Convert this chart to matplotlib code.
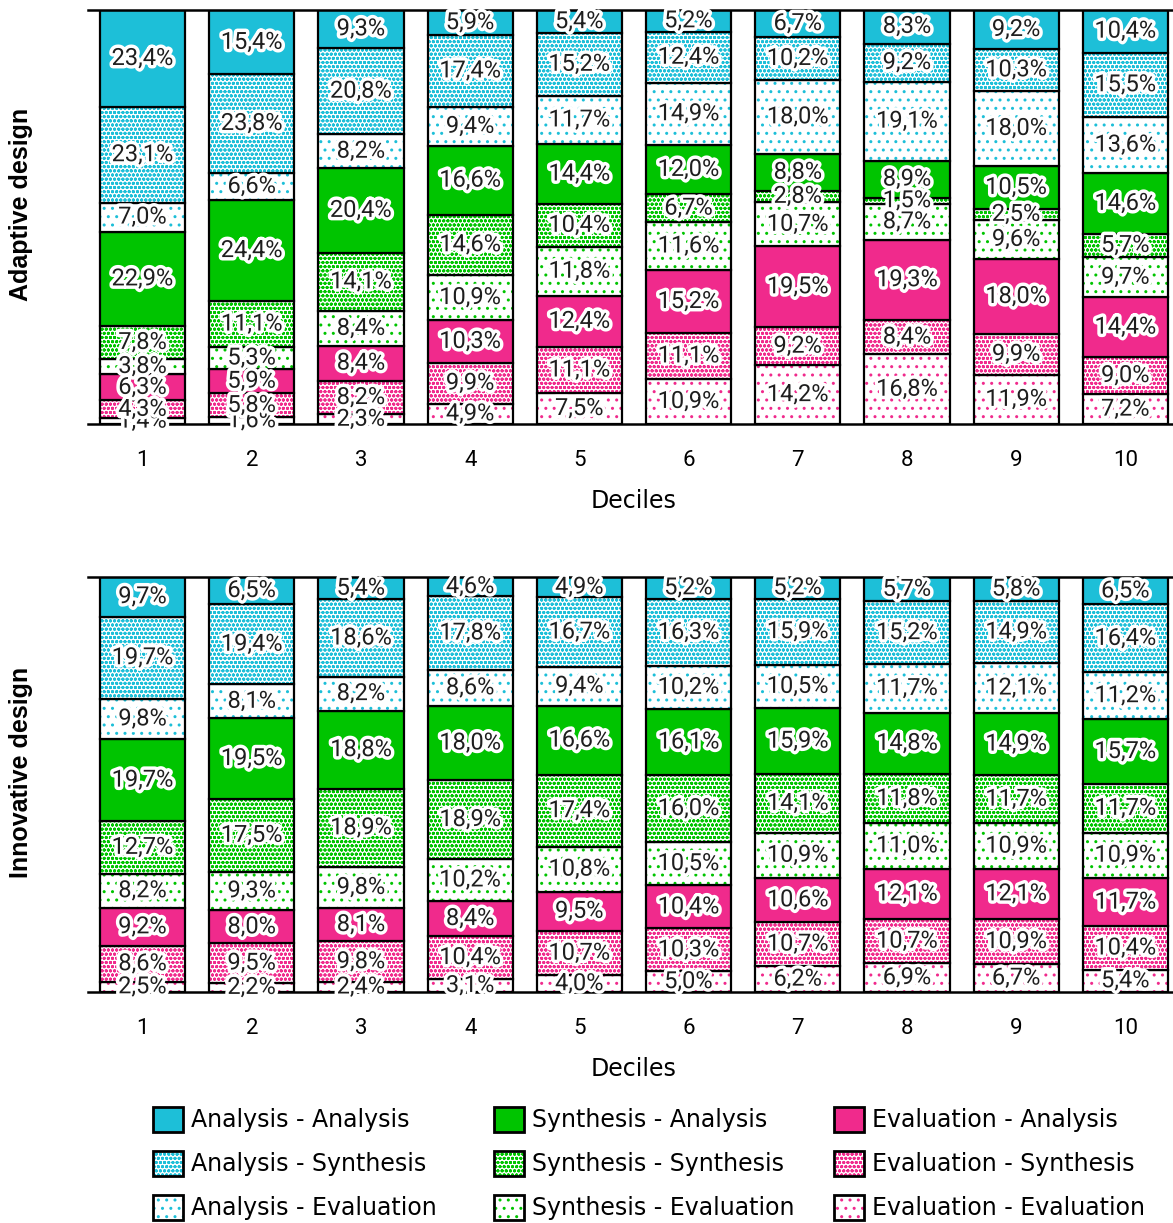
import matplotlib
matplotlib.use("Agg")
import matplotlib.pyplot as plt
import matplotlib.patheffects as pe
from matplotlib.patches import Patch

deciles = [1, 2, 3, 4, 5, 6, 7, 8, 9, 10]

# categories from bottom to top of each stack
categories = ["Evaluation - Evaluation", "Evaluation - Synthesis", "Evaluation - Analysis",
              "Synthesis - Evaluation", "Synthesis - Synthesis", "Synthesis - Analysis",
              "Analysis - Evaluation", "Analysis - Synthesis", "Analysis - Analysis"]

# adaptive design, one list per category (deciles 1..10)
ad_ee = [1.4, 1.6, 2.3, 4.9, 7.5, 10.9, 14.2, 16.8, 11.9, 7.2]
ad_es = [4.3, 5.8, 8.2, 9.9, 11.1, 11.1, 9.2, 8.4, 9.9, 9.0]
ad_ea = [6.3, 5.9, 8.4, 10.3, 12.4, 15.2, 19.5, 19.3, 18.0, 14.4]
ad_se = [3.8, 5.3, 8.4, 10.9, 11.8, 11.6, 10.7, 8.7, 9.6, 9.7]
ad_ss = [7.8, 11.1, 14.1, 14.6, 10.4, 6.7, 2.8, 1.5, 2.5, 5.7]
ad_sa = [22.9, 24.4, 20.4, 16.6, 14.4, 12.0, 8.8, 8.9, 10.5, 14.6]
ad_ae = [7.0, 6.6, 8.2, 9.4, 11.7, 14.9, 18.0, 19.1, 18.0, 13.6]
ad_as = [23.1, 23.8, 20.8, 17.4, 15.2, 12.4, 10.2, 9.2, 10.3, 15.5]
ad_aa = [23.4, 15.4, 9.3, 5.9, 5.4, 5.2, 6.7, 8.3, 9.2, 10.4]

# innovative design
in_ee = [2.5, 2.2, 2.4, 3.1, 4.0, 5.0, 6.2, 6.9, 6.7, 5.4]
in_es = [8.6, 9.5, 9.8, 10.4, 10.7, 10.3, 10.7, 10.7, 10.9, 10.4]
in_ea = [9.2, 8.0, 8.1, 8.4, 9.5, 10.4, 10.6, 12.1, 12.1, 11.7]
in_se = [8.2, 9.3, 9.8, 10.2, 10.8, 10.5, 10.9, 11.0, 10.9, 10.9]
in_ss = [12.7, 17.5, 18.9, 18.9, 17.4, 16.0, 14.1, 11.8, 11.7, 11.7]
in_sa = [19.7, 19.5, 18.8, 18.0, 16.6, 16.1, 15.9, 14.8, 14.9, 15.7]
in_ae = [9.8, 8.1, 8.2, 8.6, 9.4, 10.2, 10.5, 11.7, 12.1, 11.2]
in_as = [19.7, 19.4, 18.6, 17.8, 16.7, 16.3, 15.9, 15.2, 14.9, 16.4]
in_aa = [9.7, 6.5, 5.4, 4.6, 4.9, 5.2, 5.2, 5.7, 5.8, 6.5]

adaptive = [ad_ee, ad_es, ad_ea, ad_se, ad_ss, ad_sa, ad_ae, ad_as, ad_aa]
innovative = [in_ee, in_es, in_ea, in_se, in_ss, in_sa, in_ae, in_as, in_aa]

cyan = "#1dbfd8"
green = "#00c400"
pink = "#f02a8c"
# (colour, face, hatch) per category, same order as categories
styles = [(pink, "white", ".."), (pink, "white", "oooo"), (pink, pink, None),
          (green, "white", ".."), (green, "white", "oooo"), (green, green, None),
          (cyan, "white", ".."), (cyan, "white", "oooo"), (cyan, cyan, None)]

plt.rcParams["font.family"] = ["DejaVu Sans"]
plt.rcParams["hatch.linewidth"] = 1.0

fig = plt.figure(figsize=(11.73, 12.23), dpi=100)
ax1 = fig.add_axes([0.075, 0.6533, 0.931, 0.3385])
ax2 = fig.add_axes([0.075, 0.1889, 0.931, 0.3393])

glow = [pe.withStroke(linewidth=5, foreground="white")]

def draw(ax, data, name):
    bottom = [0.0] * len(deciles)
    for vals, (col, face, hatch) in zip(data, styles):
        ax.bar(deciles, vals, width=0.78, bottom=bottom, color=face,
               edgecolor=col, hatch=hatch, linewidth=0)
        ax.bar(deciles, vals, width=0.78, bottom=bottom, fill=False,
               edgecolor="black", linewidth=1.6)
        for x, v, b in zip(deciles, vals, bottom):
            ax.text(x, b + v / 2, f"{v:.1f}%".replace(".", ","), ha="center",
                    va="center", fontsize=17, family="Roboto", color="#1e1e1e",
                    path_effects=glow)
        bottom = [b + v for b, v in zip(bottom, vals)]
    ax.set_xlim(0.5, 10.5)
    ax.set_ylim(0, 100)
    ax.set_xticks(deciles)
    ax.set_xticklabels([str(d) for d in deciles], family="Roboto")
    ax.tick_params(axis="x", length=0, labelsize=16, pad=19)
    ax.set_yticks([])
    for s in ["left", "right"]:
        ax.spines[s].set_visible(False)
    ax.spines["top"].set_linewidth(1.8)
    ax.spines["bottom"].set_linewidth(1.8)
    ax.set_xlabel("Deciles", fontsize=17, labelpad=13)
    ax.set_ylabel(name, fontsize=18, fontweight="bold", family="Liberation Sans")
    ax.yaxis.set_label_coords(-0.050, 0.53)

draw(ax1, adaptive, "Adaptive design")
draw(ax2, innovative, "Innovative design")

# legend: one column per first word (Analysis, Synthesis, Evaluation)
groups = [[8, 7, 6], [5, 4, 3], [2, 1, 0]]
xpos = [0.12, 0.411, 0.7008]
for grp, x0 in zip(groups, xpos):
    handles = []
    labels = []
    for idx in grp:
        col, face, hatch = styles[idx]
        h = (Patch(facecolor=face, edgecolor=col, hatch=hatch, linewidth=0),
             Patch(fill=False, edgecolor="black", linewidth=2))
        handles.append(h)
        labels.append(categories[idx])
    fig.legend(handles, labels, loc="upper left", bbox_to_anchor=(x0, 0.1047),
               frameon=False, fontsize=17, handlelength=1.27, handleheight=1.27,
               handletextpad=0.34, labelspacing=0.78, borderpad=0)

fig.savefig("out.png", dpi=100)
